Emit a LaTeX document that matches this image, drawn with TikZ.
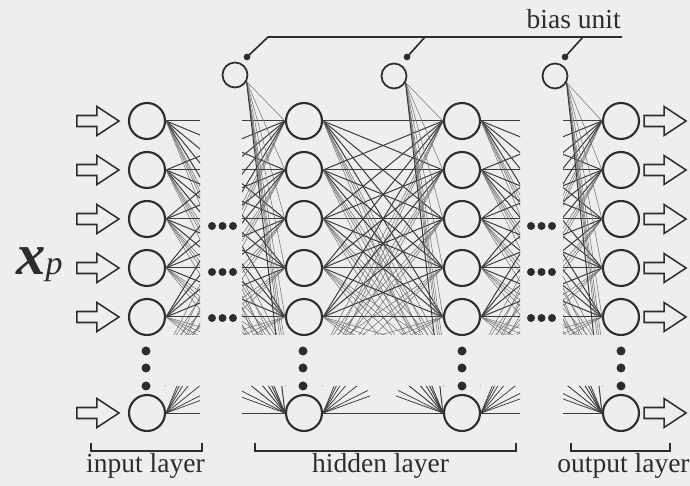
\documentclass[tikz,border=0pt]{standalone}
\usepackage{fontspec}
\setmainfont{Liberation Serif}
\usetikzlibrary{calc}
\definecolor{paper}{RGB}{238,238,238}
\definecolor{ink}{RGB}{45,45,45}
\definecolor{wire}{RGB}{60,60,60}
\definecolor{faint}{RGB}{115,115,115}
\newcommand\layerfont{\fontsize{23.5}{26}\selectfont}
\tikzset{
  unit/.style={circle,draw=ink,line width=1.8pt,minimum size=1.08cm,inner sep=0pt},
  biasunit/.style={circle,draw=ink,line width=1.5pt,minimum size=0.75cm,inner sep=0pt},
  wdark/.style={draw=wire,line width=0.85pt},
  wlight/.style={draw=faint,line width=0.45pt},
  wfan/.style={draw=wire,line width=0.65pt},
  dotmark/.style={circle,fill=ink,inner sep=0pt,minimum size=0.24cm},
  vdot/.style={circle,fill=ink,inner sep=0pt,minimum size=0.27cm},
  leader/.style={draw=ink,line width=1.4pt},
  bracket/.style={draw=ink,line width=1.3pt},
  inarrow/.pic={\draw[ink,line width=1.3pt,fill=paper,line join=miter]
    (0,-5.5) -- (20,-5.5) -- (20,-14.5) -- (42,0) -- (20,14.5) -- (20,5.5) -- (0,5.5) -- cycle;}
}
\begin{document}
\begin{tikzpicture}[x=0.03cm,y=-0.03cm]
\fill[paper] (0,0) rectangle (690,486);
\useasboundingbox (0,0) rectangle (690,486);

% units of the four layers, with their contact points
\foreach \c/\x in {0/147,1/304,2/462,3/621} {
  \foreach \r/\y in {1/121,2/170,3/219,4/268,5/317,9/413} {
    \node[unit] (n\c-\r) at (\x,\y) {};
    \coordinate (E\c-\r) at (n\c-\r.east);
    \coordinate (W\c-\r) at (n\c-\r.west);
  }
  % units hidden behind the vertical dots
  \foreach \r/\y in {6/352,7/369,8/386} {
    \coordinate (E\c-\r) at ({\x+18},\y);
    \coordinate (W\c-\r) at ({\x-18},\y);
  }
}

% bias units
\node[biasunit] (b1) at (235,75) {};
\node[biasunit] (b2) at (394,76) {};
\node[biasunit] (b3) at (555,76) {};

% weights: cut away where the layers are elided
\begin{scope}
\clip (0,0) rectangle (200,335) (242,0) rectangle (520,335) (563,0) rectangle (690,335)
      (0,386) rectangle (200,486) (242,386) rectangle (520,486) (563,386) rectangle (690,486);
\foreach \s/\t in {0/1,1/2,2/3} {
  \foreach \a in {1,...,5} {
    \foreach \b in {1,...,5} { \draw[wdark] (E\s-\a) -- (W\t-\b); }
    \foreach \b in {6,7,8,9} {
      \draw[wlight] (E\s-\a) -- (W\t-\b);
    }
    \foreach \b in {6,7,8} {
      \draw[wlight] (E\s-\b) -- (W\t-\a);
    }
  }
  \draw[wdark] (E\s-9) -- (W\t-9);
  \foreach \a in {1,...,7} {
    \draw[wfan] (E\s-9) -- ($(E\s-9)!1.5cm!(W\t-\a)$);
    \draw[wfan] (W\t-9) -- ($(W\t-9)!1.5cm!(E\s-\a)$);
  }
}
\foreach \b in {1,2,3} {
  \foreach \a in {1,...,8} { \draw[wlight] (b\b.-30) -- (W\b-\a); }
  \draw[wdark] (b\b.-30) -- (W\b-9);
}
\end{scope}

% input and output arrows
\foreach \r in {1,2,3,4,5,9} {
  \pic at ($(n0-\r.west)+(-51,0)$) {inarrow};
  \pic at ($(n3-\r.east)+(4,0)$) {inarrow};
}

% elided units
\foreach \y/\k in {226/3,272/4,318/5} {
  \node[dotmark] (la\k) at (212,\y) {};
  \node[dotmark] (lb\k) at (222.5,\y) {};
  \node[dotmark] (lc\k) at (233,\y) {};
  \node[dotmark] (ra\k) at (531,\y) {};
  \node[dotmark] (rb\k) at (541.5,\y) {};
  \node[dotmark] (rc\k) at (552,\y) {};
}
\foreach \c/\x in {0/146,1/303,2/462,3/621} {
  \node[vdot] (v\c a) at (\x,351) {};
  \node[vdot] (v\c b) at (\x,368) {};
  \node[vdot] (v\c c) at (\x,386) {};
}

% bias unit callout
\node[circle,fill=ink,inner sep=0pt,minimum size=0.2cm] (d1) at (247,57) {};
\node[circle,fill=ink,inner sep=0pt,minimum size=0.2cm] (d2) at (407,57) {};
\node[circle,fill=ink,inner sep=0pt,minimum size=0.2cm] (d3) at (565,57) {};
\coordinate (k1) at (268,37);
\coordinate (k2) at (425,37);
\coordinate (k3) at (583,37);
\coordinate (busend) at (622,37);
\draw[leader] (d1.center) -- (k1) -- (busend);
\draw[leader] (d2.center) -- (k2);
\draw[leader] (d3.center) -- (k3);
\node[anchor=base east,inner sep=0pt,font=\layerfont,text=ink] (biaslbl) at (621,29) {bias unit};

% input vector
\node[anchor=base west,inner sep=0pt,text=ink] (xp) at (16,275)
  {{\fontsize{50}{50}\selectfont\bfseries\itshape x}{\fontsize{29}{29}\selectfont\itshape p}};

% layer brackets and names
\draw[bracket] (91,443) -- (91,451) -- (202,451) -- (202,443);
\draw[bracket] (255,443) -- (255,451) -- (516,451) -- (516,443);
\draw[bracket] (571,443) -- (571,451) -- (670,451) -- (670,443);
\node[anchor=base,inner sep=0pt,font=\layerfont,text=ink] (inlbl) at (145.5,473) {input layer};
\node[anchor=base,inner sep=0pt,font=\layerfont,text=ink] (hidlbl) at (380.5,473) {hidden layer};
\node[anchor=base,inner sep=0pt,font=\layerfont,text=ink] (outlbl) at (623.5,473) {output layer};
\end{tikzpicture}
\end{document}
